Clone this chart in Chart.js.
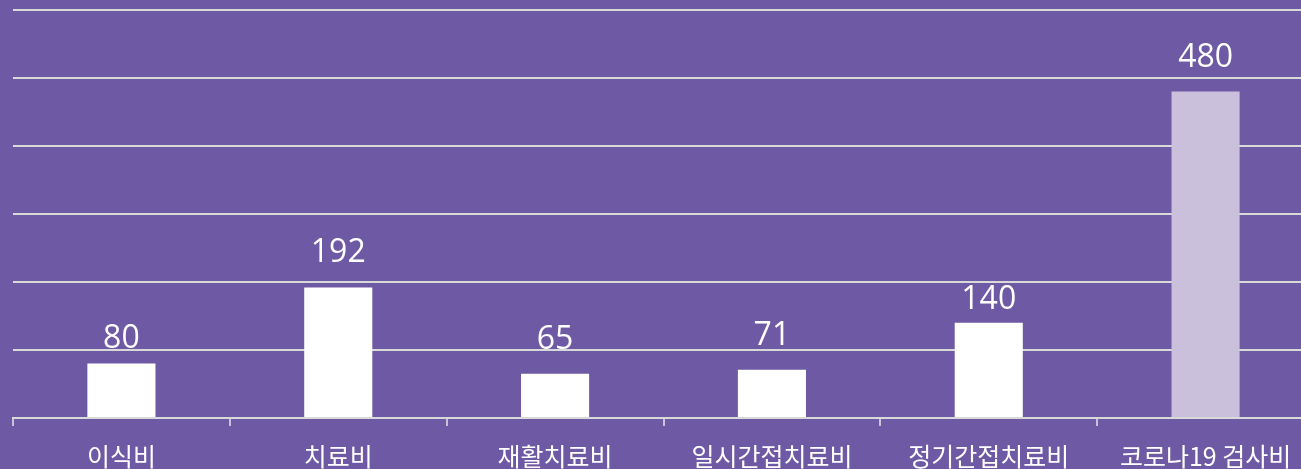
<!DOCTYPE html>
<html>
<head>
<meta charset="utf-8">
<script src="https://cdn.jsdelivr.net/npm/chart.js@4/dist/chart.umd.min.js"></script>
<style>
  html, body { margin: 0; padding: 0; background: #6E59A4; overflow: hidden; width: 1301px; height: 469px; }
  #wrap { position: absolute; left: 0; top: 0; width: 1320px; height: 469px; }
  canvas { display: block; }
</style>
</head>
<body>
<div id="wrap"><canvas id="c" width="1320" height="469"></canvas></div>
<script>
const categories = ['이식비', '치료비', '재활치료비', '일시간접치료비', '정기간접치료비', '코로나19 검사비'];
const values = [80, 192, 65, 71, 140, 480];
const yTicks = [0, 100, 200, 300, 400, 500, 600];

const barColors = values.map((v, i) => i === values.length - 1 ? '#CAC0DB' : '#FFFFFF');
const labelShift = [9, 0, 0, 0, 11, 0];

const valueLabels = {
  id: 'valueLabels',
  afterDatasetsDraw(chart) {
    const ctx = chart.ctx;
    const meta = chart.getDatasetMeta(0);
    ctx.save();
    ctx.fillStyle = '#FFFFFF';
    ctx.font = '32px "Open Sans", "Noto Sans", sans-serif';
    ctx.textAlign = 'center';
    ctx.textBaseline = 'alphabetic';
    meta.data.forEach((el, i) => {
      const v = chart.data.datasets[0].data[i];
      ctx.fillText(String(v), el.x, el.y - 25 + labelShift[i]);
    });
    ctx.restore();
  }
};

new Chart(document.getElementById('c'), {
  type: 'bar',
  data: {
    labels: categories,
    datasets: [{
      data: values,
      backgroundColor: barColors,
      borderWidth: 0,
      barPercentage: 0.314,
      categoryPercentage: 1.0
    }]
  },
  options: {
    responsive: false,
    animation: false,
    layout: { padding: { left: 13, right: 6, top: 10, bottom: 0 } },
    plugins: { legend: { display: false }, tooltip: { enabled: false } },
    scales: {
      x: {
        grid: { offset: true, drawOnChartArea: false, drawTicks: true, tickLength: 8, color: '#C8C4D4', lineWidth: 2 },
        border: { display: true, color: '#D9D9D9', width: 2 },
        ticks: { color: '#FFFFFF', font: { family: '"Noto Sans CJK KR", sans-serif', size: 25 }, padding: 15, maxRotation: 0, autoSkip: false },
        afterFit(scale) { scale.height = 51; }
      },
      y: {
        min: yTicks[0],
        max: yTicks[yTicks.length - 1],
        afterBuildTicks(scale) { scale.ticks = yTicks.map(v => ({ value: v })); },
        grid: { color: '#D9D9D9', lineWidth: 2, drawTicks: false },
        border: { display: false },
        ticks: { display: false },
        afterFit(scale) { scale.width = 0; }
      }
    }
  },
  plugins: [valueLabels]
});
</script>
</body>
</html>
